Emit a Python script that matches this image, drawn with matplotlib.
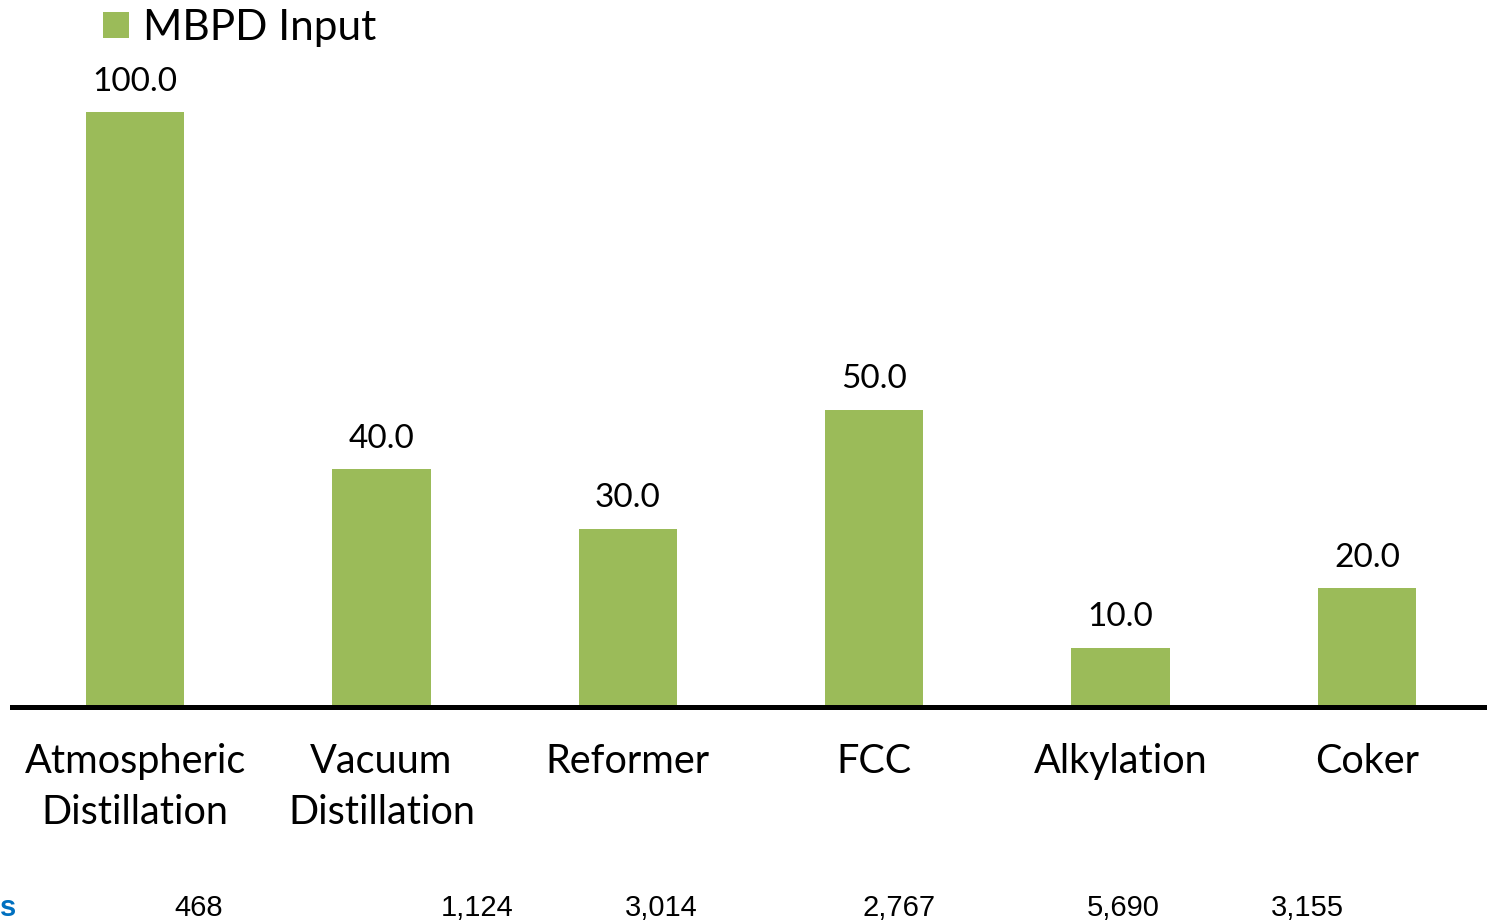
import matplotlib
matplotlib.use("Agg")
import matplotlib.pyplot as plt
from matplotlib.patches import Rectangle

# Refinery unit capacities
units = ["Atmospheric\nDistillation", "Vacuum\nDistillation", "Reformer", "FCC", "Alkylation", "Coker"]
mbpd_input = [100.0, 40.0, 30.0, 50.0, 10.0, 20.0]
series_name = "MBPD Input"

# Row of figures printed beneath the chart
bottom_values = ["468", "1,124", "3,014", "2,767", "5,690", "3,155"]
bottom_x_px = [199, 477, 661, 899, 1123, 1307]

W, H = 1487, 924
GREEN = "#9BBB59"
FONT = ["Lato", "DejaVu Sans"]
ARIAL = ["Liberation Sans", "DejaVu Sans"]

fig = plt.figure(figsize=(W / 100, H / 100), dpi=100)
fig.patch.set_facecolor("white")

ax_left = 12 / W
ax_bottom = (H - 707) / H
ax_width = 1478 / W
ax_height = (110 * 5.95) / H
ax = fig.add_axes([ax_left, ax_bottom, ax_width, ax_height])

x = list(range(len(units)))
ax.bar(x, mbpd_input, width=0.4, color=GREEN, zorder=2)
ax.set_xlim(-0.5, 5.5)
ax.set_ylim(0, 110)

for xi, v in zip(x, mbpd_input):
    ax.text(xi, v + 3.6, f"{v:.1f}", ha="center", va="baseline",
            fontsize=24, family=FONT, color="black")

for s in ["top", "right", "left"]:
    ax.spines[s].set_visible(False)
ax.spines["bottom"].set_linewidth(3.6)
ax.spines["bottom"].set_color("black")
ax.spines["bottom"].set_zorder(3)
ax.set_yticks([])
ax.set_xticks(x)
ax.set_xticklabels(units, family=FONT, fontsize=28.5, linespacing=1.45)
ax.tick_params(axis="x", length=0, pad=26)

# Legend: swatch plus series name
fig.patches.append(Rectangle((103 / W, 1 - 38 / H), 26 / W, 26 / H,
                             transform=fig.transFigure, facecolor=GREEN,
                             edgecolor="none"))
fig.text(143 / W, 1 - 40 / H, series_name, ha="left", va="baseline",
         fontsize=30.5, family=FONT, color="black")

# Bottom row of figures
for label, px in zip(bottom_values, bottom_x_px):
    fig.text(px / W, 1 - 916 / H, label, ha="center", va="baseline",
             fontsize=21, family=ARIAL, color="black")
fig.text(0, 1 - 916 / H, "s", ha="left", va="baseline", fontsize=21,
         family=ARIAL, fontweight="bold", color="#0070C0")

fig.savefig("out.png", dpi=100, facecolor="white")
